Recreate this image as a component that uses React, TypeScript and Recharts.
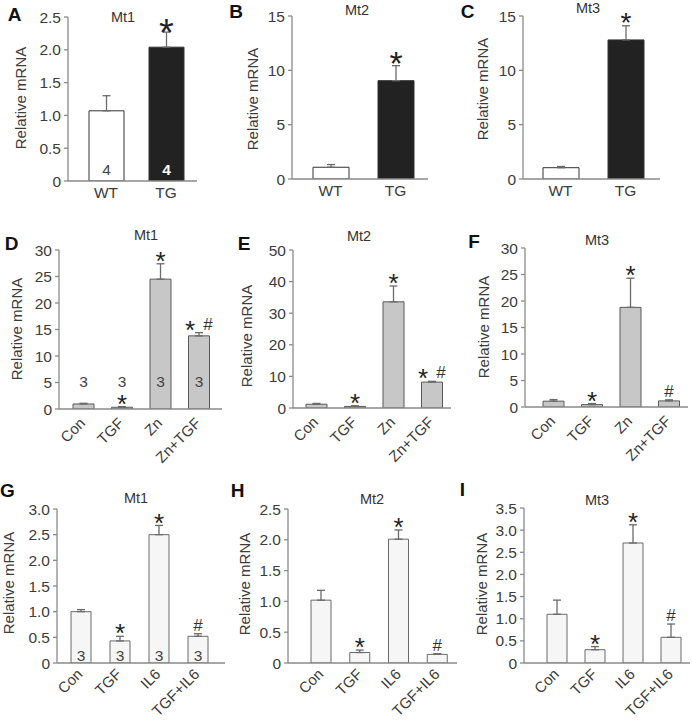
import React from 'react';
import { BarChart, Bar, XAxis, YAxis, ErrorBar, LabelList, Cell } from 'recharts';

// Row 1: transgenic vs wild type
const genotypes = ['WT', 'TG'];
const mt1Geno = [1.07, 2.04];
const mt1GenoTop = [1.3, 2.27];
const mt2Geno = [1.08, 9.05];
const mt2GenoTop = [1.33, 10.43];
const mt3Geno = [1.04, 12.8];
const mt3GenoTop = [1.15, 14.1];
const genoCounts = ['4', '4'];
const genoMarks = ['', '*'];

// Row 2: zinc / TGF treatment
const zincGroups = ['Con', 'TGF', 'Zn', 'Zn+TGF'];
const mt1Zinc = [0.95, 0.33, 24.5, 13.8];
const mt1ZincTop = [1.08, 0.45, 27.4, 14.4];
const mt2Zinc = [1.2, 0.5, 33.6, 8.2];
const mt2ZincTop = [1.45, 0.7, 38.6, 8.45];
const mt3Zinc = [1.1, 0.45, 18.8, 1.15];
const mt3ZincTop = [1.4, 0.65, 24.3, 1.35];
const zincCounts = ['3', '3', '3', '3'];
const zincMarks = ['', '*', '*', '*#'];
const zincMarksMt3 = ['', '*', '*', '#'];

// Row 3: IL6 / TGF treatment
const il6Groups = ['Con', 'TGF', 'IL6', 'TGF+IL6'];
const mt1Il6 = [1.0, 0.43, 2.5, 0.52];
const mt1Il6Top = [1.04, 0.52, 2.68, 0.57];
const mt2Il6 = [1.02, 0.17, 2.01, 0.14];
const mt2Il6Top = [1.18, 0.21, 2.16, 0.15];
const mt3Il6 = [1.1, 0.3, 2.71, 0.58];
const mt3Il6Top = [1.42, 0.37, 3.12, 0.88];
const il6Counts = ['3', '3', '3', '3'];
const il6Marks = ['', '*', '*', '#'];

// y-axis ticks
const ticksA = [0, 0.5, 1, 1.5, 2, 2.5];
const ticksBC = [0, 5, 10, 15];
const ticksD = [0, 5, 10, 15, 20, 25, 30];
const ticksE = [0, 10, 20, 30, 40, 50];
const ticksF = [0, 5, 10, 15, 20, 25, 30];
const ticksG = [0, 0.5, 1, 1.5, 2, 2.5, 3];
const ticksH = [0, 0.5, 1, 1.5, 2, 2.5];
const ticksI = [0, 0.5, 1, 1.5, 2, 2.5, 3, 3.5];

const FONT = '"Liberation Sans", Arial, Helvetica, sans-serif';
const TEXT = '#3c3c3c';
const AXIS = '#8a8a8a';
const ERR = '#6a6a6a';

const FlatTick = (props: any) => {
  const { x, y, payload } = props;
  return (
    <text x={x} y={y + 17} textAnchor="middle" fill={TEXT} fontSize={15.5} fontFamily={FONT}>
      {payload.value}
    </text>
  );
};

const RotTick = (props: any) => {
  const { x, y, payload, drop } = props;
  const ax = x + 3;
  const ay = y + drop;
  return (
    <text x={ax} y={ay} transform={`rotate(-45, ${ax}, ${ay})`} textAnchor="end" fill={TEXT} fontSize={15} fontFamily={FONT}>
      {payload.value}
    </text>
  );
};

function Panel(p: any) {
  const YW = 44, XH = 66, TM = 14, RM = 4;
  const left = p.axisX - YW;
  const top = p.yTop - TM;
  const width = p.xEnd - p.axisX + YW + RM;
  const height = p.yBot - p.yTop + TM + XH;
  const yMax = p.ticks[p.ticks.length - 1];
  const data = p.categories.map((name: string, i: number) => ({
    name,
    i,
    mean: p.means[i],
    err: [0, +(p.tops[i] - p.means[i]).toFixed(3)],
  }));

  const geom = (props: any) => {
    const vb = props.viewBox && props.viewBox.width !== undefined ? props.viewBox : props;
    const i = props.value;
    const base = vb.y + vb.height;
    const ppu = vb.height / p.means[i];
    return { i, base, cx: vb.x + vb.width / 2, topY: base - p.tops[i] * ppu };
  };

  const markContent = (props: any) => {
    const { i, cx, topY } = geom(props);
    const m = p.marks[i];
    if (!m) return null;
    const c = topY - p.gap;
    const star = (x: number) => (
      <text key="s" x={x} y={c + p.starSize * 0.58} textAnchor="middle" fill="#222" fontSize={p.starSize} fontFamily={FONT}>*</text>
    );
    const hash = (x: number) => (
      <text key="h" x={x} y={c + 6} textAnchor="middle" fill="#333" fontSize={17} fontFamily={FONT}>#</text>
    );
    if (m === '*') return star(cx);
    if (m === '#') return hash(cx);
    return <g>{star(cx - 9)}{hash(cx + 9)}</g>;
  };

  const countContent = (props: any) => {
    const { i, cx, base } = geom(props);
    const white = p.countColors && p.countColors[i] === '#fff';
    return (
      <text x={cx} y={base - p.countOffset + 5.5} textAnchor="middle" fill={p.countColors ? p.countColors[i] : '#444'}
        fontSize={15.5} fontWeight={white ? 'bold' : 'normal'} fontFamily={FONT}>
        {p.counts[i]}
      </text>
    );
  };

  return (
    <>
      <div style={{ position: 'absolute', left, top }}>
        <BarChart width={width} height={height} data={data} margin={{ top: TM, right: RM, bottom: 0, left: 0 }} barCategoryGap={0}>
          <XAxis
            dataKey="name"
            height={XH}
            padding={{ left: p.padL, right: p.padR }}
            tickLine={false}
            tickSize={0}
            tickMargin={0}
            interval={0}
            axisLine={{ stroke: AXIS, strokeWidth: 1.3 }}
            tick={p.rotate ? <RotTick drop={p.drop} /> : <FlatTick />}
          />
          <YAxis
            width={YW}
            domain={[0, yMax]}
            ticks={p.ticks}
            interval={0}
            allowDataOverflow
            tickSize={4}
            tickMargin={3}
            tickFormatter={(v: number) => (p.decimals && v !== 0 ? v.toFixed(1) : String(v))}
            tick={{ fill: TEXT, fontSize: 15.5, fontFamily: FONT }}
            axisLine={{ stroke: AXIS, strokeWidth: 1.3 }}
            tickLine={{ stroke: AXIS, strokeWidth: 1.3 }}
          />
          <Bar dataKey="mean" barSize={p.barSize} stroke={p.stroke} strokeWidth={1} isAnimationActive={false}>
            {data.map((d: any, i: number) => (
              <Cell key={d.name} fill={p.fills[i % p.fills.length]} />
            ))}
            <ErrorBar dataKey="err" direction="y" width={4} stroke={ERR} strokeWidth={1.3} isAnimationActive={false} />
            <LabelList dataKey="i" content={markContent} />
            {p.counts && <LabelList dataKey="i" content={countContent} />}
          </Bar>
        </BarChart>
      </div>
      <div style={{ position: 'absolute', left: p.title[1], top: p.title[2], transform: 'translate(-50%, -50%)', fontFamily: FONT, fontSize: 14.5, color: '#333', lineHeight: 1, whiteSpace: 'nowrap' }}>
        {p.title[0]}
      </div>
      <div style={{ position: 'absolute', left: p.ylab[0], top: p.ylab[1], transform: 'translate(-50%, -50%) rotate(-90deg)', fontFamily: FONT, fontSize: 15, color: TEXT, lineHeight: 1, whiteSpace: 'nowrap' }}>
        Relative mRNA
      </div>
      <div style={{ position: 'absolute', left: p.letter[1], top: p.letter[2], transform: 'translate(-50%, -50%)', fontFamily: FONT, fontSize: 19, fontWeight: 'bold', color: '#111', lineHeight: 1 }}>
        {p.letter[0]}
      </div>
    </>
  );
}

const GENO_FILLS = ['#ffffff', '#222222'];
const ZINC_FILLS = ['#c7c7c7'];
const IL6_FILLS = ['#f6f6f6'];

export default function App() {
  return (
    <div style={{ position: 'absolute', left: 0, top: 0, width: 692, height: 720, background: '#fff' }}>
      <Panel categories={genotypes} means={mt1Geno} tops={mt1GenoTop} marks={genoMarks} counts={genoCounts} countOffset={12} countColors={['#444', '#fff']}
        fills={GENO_FILLS} stroke="#333" ticks={ticksA} decimals axisX={68} xEnd={197} yTop={17} yBot={181} padL={8} padR={1} barSize={35}
        starSize={38} gap={8} rotate={false} title={['Mt1', 123, 17]} ylab={[20, 98]} letter={['A', 14.5, 14]} />
      <Panel categories={genotypes} means={mt2Geno} tops={mt2GenoTop} marks={genoMarks}
        fills={GENO_FILLS} stroke="#333" ticks={ticksBC} decimals={false} axisX={292} xEnd={428} yTop={16} yBot={179} padL={6} padR={0} barSize={36}
        starSize={34} gap={10} rotate={false} title={['Mt2', 357, 10]} ylab={[252, 99]} letter={['B', 236, 11]} />
      <Panel categories={genotypes} means={mt3Geno} tops={mt3GenoTop} marks={genoMarks}
        fills={GENO_FILLS} stroke="#333" ticks={ticksBC} decimals={false} axisX={523} xEnd={660} yTop={16} yBot={179} padL={5} padR={2} barSize={36}
        starSize={28} gap={10} rotate={false} title={['Mt3', 588, 8]} ylab={[482, 89]} letter={['C', 467.5, 11]} />

      <Panel categories={zincGroups} means={mt1Zinc} tops={mt1ZincTop} marks={zincMarks} counts={zincCounts} countOffset={27.5}
        fills={ZINC_FILLS} stroke="#5a5a5a" ticks={ticksD} decimals={false} axisX={59} xEnd={222} yTop={250} yBot={409} padL={5} padR={4} barSize={21}
        starSize={26} gap={9} rotate drop={15} title={['Mt1', 146, 235]} ylab={[16, 329]} letter={['D', 11.5, 242.5]} />
      <Panel categories={zincGroups} means={mt2Zinc} tops={mt2ZincTop} marks={zincMarks}
        fills={ZINC_FILLS} stroke="#5a5a5a" ticks={ticksE} decimals={false} axisX={293} xEnd={451} yTop={250} yBot={408} padL={4} padR={0} barSize={21}
        starSize={26} gap={9} rotate drop={15} title={['Mt2', 359, 236]} ylab={[246, 336]} letter={['E', 244, 242.5]} />
      <Panel categories={zincGroups} means={mt3Zinc} tops={mt3ZincTop} marks={zincMarksMt3}
        fills={ZINC_FILLS} stroke="#5a5a5a" ticks={ticksF} decimals={false} axisX={525} xEnd={688} yTop={248} yBot={407} padL={9} padR={0} barSize={21}
        starSize={26} gap={9} rotate drop={15} title={['Mt3', 597, 240]} ylab={[483, 327]} letter={['F', 474, 241]} />

      <Panel categories={il6Groups} means={mt1Il6} tops={mt1Il6Top} marks={il6Marks} counts={il6Counts} countOffset={7.5}
        fills={IL6_FILLS} stroke="#6a6a6a" ticks={ticksG} decimals axisX={57} xEnd={225} yTop={509} yBot={663} padL={4} padR={8} barSize={20}
        starSize={26} gap={9} rotate drop={12} title={['Mt1', 136, 498]} ylab={[8, 583]} letter={['G', 7.5, 490]} />
      <Panel categories={il6Groups} means={mt2Il6} tops={mt2Il6Top} marks={il6Marks}
        fills={IL6_FILLS} stroke="#6a6a6a" ticks={ticksH} decimals axisX={288} xEnd={457} yTop={509} yBot={663} padL={14} padR={0} barSize={20}
        starSize={26} gap={9} rotate drop={12} title={['Mt2', 372, 499]} ylab={[244, 584]} letter={['H', 237.5, 489.5]} />
      <Panel categories={il6Groups} means={mt3Il6} tops={mt3Il6Top} marks={il6Marks}
        fills={IL6_FILLS} stroke="#6a6a6a" ticks={ticksI} decimals axisX={524} xEnd={690} yTop={508} yBot={663} padL={14} padR={0} barSize={20}
        starSize={26} gap={9} rotate drop={12} title={['Mt3', 597, 500]} ylab={[481, 584]} letter={['I', 462.5, 488.5]} />
    </div>
  );
}
